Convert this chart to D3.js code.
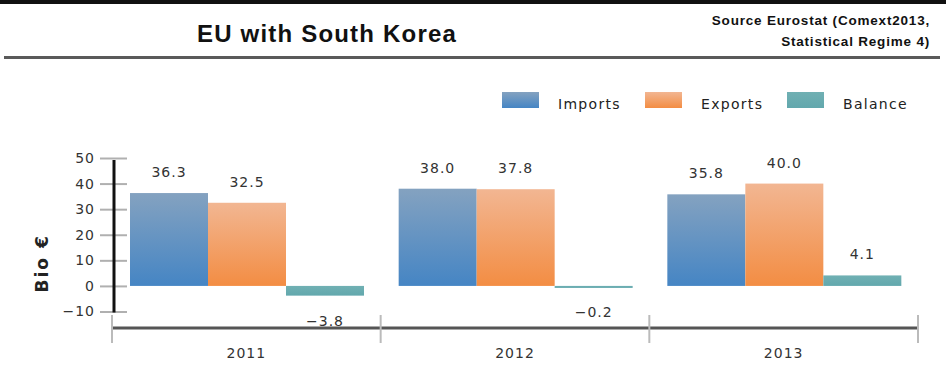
<!DOCTYPE html>
<html lang="en">
<head>
<meta charset="utf-8">
<title>EU with South Korea</title>
<script src="https://d3js.org/d3.v7.min.js"></script>
<style>
  body { margin: 0; background: #fff; }
  .title { font-family: "Liberation Sans", Arial, sans-serif; font-size: 24px; font-weight: bold; fill: #111; letter-spacing: 1.2px; }
  .source { font-family: "Liberation Sans", Arial, sans-serif; font-size: 13.5px; font-weight: bold; fill: #111; letter-spacing: 0.8px; }
  .num { font-family: "DejaVu Sans", sans-serif; font-size: 14px; fill: #333; letter-spacing: 1px; }
  .legend { font-family: "DejaVu Sans", sans-serif; font-size: 14px; fill: #222; letter-spacing: 1.3px; }
  .ylab { font-family: "DejaVu Sans", sans-serif; font-size: 17px; font-weight: bold; fill: #222; letter-spacing: 2px; }
</style>
</head>
<body>
<div id="vis"></div>
<script>
const width = 946, height = 374;

const years = ["2011", "2012", "2013"];
const series = ["Imports", "Exports", "Balance"];
const imports = [36.3, 38.0, 35.8];
const exportsV = [32.5, 37.8, 40.0];
const balance = [-3.8, -0.2, 4.1];
const yTicks = [-10, 0, 10, 20, 30, 40, 50];

const values = { Imports: imports, Exports: exportsV, Balance: balance };
const rows = [];
years.forEach((yr, i) => series.forEach(s => rows.push({ year: yr, key: s, value: values[s][i] })));

const svg = d3.select("#vis").append("svg")
  .attr("width", width).attr("height", height);

const defs = svg.append("defs");
const grads = {
  Imports: ["#84a2c0", "#4585c4"],
  Exports: ["#f2b692", "#f38d43"],
  Balance: ["#70b0b3", "#62a8ad"]
};
Object.entries(grads).forEach(([k, c]) => {
  const g = defs.append("linearGradient").attr("id", "g" + k)
    .attr("x1", 0).attr("y1", 0).attr("x2", 0).attr("y2", 1);
  g.append("stop").attr("offset", "0%").attr("stop-color", c[0]);
  g.append("stop").attr("offset", "100%").attr("stop-color", c[1]);
});

// header
svg.append("rect").attr("x", 0).attr("y", 0).attr("width", width).attr("height", 4).attr("fill", "#111");
svg.append("rect").attr("x", 4).attr("y", 56).attr("width", 936).attr("height", 3).attr("fill", "#5a5a5a");
svg.append("text").attr("class", "title").attr("x", 327).attr("y", 42)
  .attr("text-anchor", "middle").text("EU with South Korea");
svg.append("text").attr("class", "source").attr("x", 930).attr("y", 25)
  .attr("text-anchor", "end").text("Source Eurostat (Comext2013,");
svg.append("text").attr("class", "source").attr("x", 930).attr("y", 46)
  .attr("text-anchor", "end").text("Statistical Regime 4)");

// scales
const x = d3.scaleBand().domain(years).range([112, 918]);
const xs = d3.scaleBand().domain(series).range([18, 252]);
const y = d3.scaleLinear().domain([-10, 50]).range([311.5, 158]);

// y axis
const yAxis = svg.append("g")
  .attr("transform", "translate(127,0)")
  .call(d3.axisLeft(y).tickValues(yTicks).tickSize(27).tickPadding(5));
yAxis.select(".domain").remove();
yAxis.selectAll(".tick line").attr("stroke", "#b0b0b0").attr("stroke-width", 2);
yAxis.selectAll(".tick text").attr("class", "num").attr("fill", "#333").style("font-size", "14px")
  .text(d => d < 0 ? "\u2212" + Math.abs(d) : d);
svg.append("line").attr("x1", 114).attr("x2", 114)
  .attr("y1", y(50) + 2).attr("y2", y(-10) + 1)
  .attr("stroke", "#111").attr("stroke-width", 3);

svg.append("text").attr("class", "ylab")
  .attr("transform", "translate(48," + (y(10) + 3) + ") rotate(-90)")
  .attr("text-anchor", "middle").text("Bio \u20ac");

// bars
const bars = svg.append("g");
bars.selectAll("rect").data(rows).join("rect")
  .attr("x", d => x(d.year) + xs(d.key))
  .attr("width", xs.bandwidth())
  .attr("y", d => y(Math.max(0, d.value)))
  .attr("height", d => Math.max(2, Math.abs(y(d.value) - y(0))))
  .attr("fill", d => "url(#g" + d.key + ")");

bars.selectAll("text").data(rows).join("text")
  .attr("class", "num")
  .attr("text-anchor", "middle")
  .attr("x", d => x(d.year) + xs(d.key) + xs.bandwidth() / 2)
  .attr("y", d => d.value >= 0 ? y(d.value) - 16 : y(Math.min(d.value, -0.6)) + 30)
  .text(d => (d.value < 0 ? "\u2212" : "") + Math.abs(d.value).toFixed(1));

// category axis
const xAxis = svg.append("g");
xAxis.append("line").attr("x1", x.range()[0]).attr("x2", x.range()[1])
  .attr("y1", 328).attr("y2", 328).attr("stroke", "#555").attr("stroke-width", 3);
const seps = years.map(d => x(d)).concat([x(years[years.length - 1]) + x.bandwidth()]);
xAxis.selectAll(".sep").data(seps).join("line").attr("class", "sep")
  .attr("x1", d => d).attr("x2", d => d).attr("y1", 315).attr("y2", 343)
  .attr("stroke", "#bbb").attr("stroke-width", 2);
xAxis.selectAll(".cat").data(years).join("text").attr("class", "num cat")
  .attr("x", d => x(d) + x.bandwidth() / 2).attr("y", 358)
  .attr("text-anchor", "middle").text(d => d);

// legend
const lx = [502, 645, 787];
const leg = svg.append("g");
series.forEach((s, i) => {
  leg.append("rect").attr("x", lx[i]).attr("y", 92).attr("width", 37).attr("height", 16)
    .attr("fill", "url(#g" + s + ")");
  leg.append("text").attr("class", "legend").attr("x", lx[i] + 56).attr("y", 109).text(s);
});
</script>
</body>
</html>
